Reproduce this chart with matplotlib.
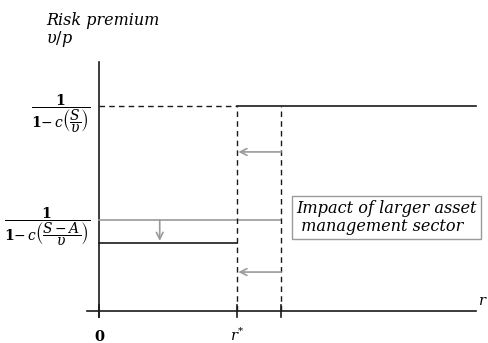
import matplotlib.pyplot as plt

plt.rcParams['mathtext.fontset'] = 'dejavuserif'
plt.rcParams['font.family'] = ['DejaVu Serif']

# schematic levels (r* = 1, high premium = 1)
r_star = 1.0
r_old = 1.32
x_end = 2.73
high_level = 1.0
low_level = 0.332
old_low_level = 0.444
shift_arrow_y = [0.776, 0.19]
drop_arrow_x = 0.44
y_top = 1.215

ink = '#1a1a1a'
grey = '#9a9a9a'

fig = plt.figure(figsize=(4.88, 3.43), dpi=100)
ax = fig.add_axes([0, 0, 1, 1])
ax.set_xlim(-99 / 138, 389 / 138)
ax.set_ylim(-32 / 205, 311 / 205)
ax.axis('off')

# axes
ax.plot([-0.087, x_end], [0, 0], color=ink, lw=1.2)
ax.plot([0, 0], [-0.03, y_top], color=ink, lw=1.2)
for xt in [0, r_star, r_old]:
    ax.plot([xt, xt], [-0.03, 0.03], color=ink, lw=1.2)

# high regime
ax.plot([0, r_star], [high_level, high_level], color=ink, lw=1, ls=(0, (4, 3)))
ax.plot([r_star, x_end], [high_level, high_level], color=ink, lw=1.2)
# low regime, before and after
ax.plot([0, r_old], [old_low_level, old_low_level], color=grey, lw=1.2)
ax.plot([0, r_star], [low_level, low_level], color=ink, lw=1.2)

# thresholds
for xv in [r_star, r_old]:
    ax.plot([xv, xv], [0, high_level], color=ink, lw=1, ls=(0, (4, 3)))

# shift arrows
arrow = dict(arrowstyle='->', color=grey, lw=1.2, shrinkA=0, shrinkB=0, mutation_scale=12)
for ya in shift_arrow_y:
    ax.annotate('', xy=(r_star + 0.01, ya), xytext=(r_old, ya), arrowprops=arrow)
ax.annotate('', xy=(drop_arrow_x, low_level + 0.01), xytext=(drop_arrow_x, old_low_level),
            arrowprops=arrow)

# labels
ax.text(-0.385, 1.415, 'Risk premium', fontsize=11.5, style='italic', va='center', ha='left')
ax.text(-0.385, 1.325, r'$\upsilon/p$', fontsize=11.5, va='center', ha='left')
ax.text(-0.065, high_level - 0.035,
        r'$\dfrac{\mathbf{1}}{\mathbf{1}{-}\,c\left(\dfrac{S}{\upsilon}\right)}$',
        fontsize=10, ha='right', va='center')
ax.text(-0.065, old_low_level - 0.035,
        r'$\dfrac{\mathbf{1}}{\mathbf{1}{-}\,c\left(\dfrac{S-A}{\upsilon}\right)}$',
        fontsize=10, ha='right', va='center')
ax.text(0, -0.125, '0', fontsize=10.5, ha='center', va='center', fontweight='bold')
ax.text(r_star, -0.12, r'$r^{*}$', fontsize=10.5, ha='center', va='center')
ax.text(2.745, 0.05, r'$r$', fontsize=10.5, ha='left', va='center')

ax.text(1.43, 0.455, 'Impact of larger asset\n management sector', fontsize=11.6,
        style='italic', ha='left', va='center', linespacing=1.05,
        bbox=dict(boxstyle='square,pad=0.25', fc='white', ec=grey, lw=1))

fig.savefig('out.png', dpi=100)
